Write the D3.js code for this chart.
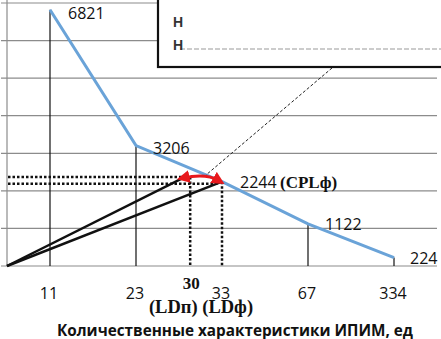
<!DOCTYPE html>
<html>
<head>
<meta charset="utf-8">
<script src="https://cdn.jsdelivr.net/npm/d3@7.9.0/dist/d3.min.js"></script>
<style>
  body { margin: 0; background: #fff; }
  svg { display: block; }
  .num { font-family: "Open Sans", sans-serif; font-size: 16px; fill: #111; }
  .ser { font-family: "Liberation Serif", serif; font-weight: bold; fill: #111; }
</style>
</head>
<body>
<svg width="441" height="339"></svg>
<script>
// categories on the x axis and the curve values
const categories = ["11", "23", "33", "67", "334"];
const values = [6821, 3206, 2244, 1122, 224];
const yTicks = [0, 1000, 2000, 3000, 4000, 5000, 6000, 7000];

// planned point LDп (30) sits between 23 and 33
const ldp = { label: "30", frac: 0.63, value: 2370 };
const ldf = { cat: "33", value: 2244 };

const svg = d3.select("svg");
const W = 441;

let x = d3.scalePoint().domain(categories).range([7, 437]).padding(0.5);
let y = d3.scaleLinear().domain([0, 7000]).range([266, 3]);

const xLdp = x("23") + ldp.frac * (x("33") - x("23"));

// gridlines
svg.append("g")
  .selectAll("line")
  .data(yTicks)
  .join("line")
  .attr("x1", 1).attr("x2", 437)
  .attr("y1", d => y(d)).attr("y2", d => y(d))
  .attr("stroke", "#8c8c8c").attr("stroke-width", 1.2);

// y axis line
svg.append("line")
  .attr("x1", 7).attr("x2", 7).attr("y1", 0).attr("y2", y(0))
  .attr("stroke", "#8c8c8c").attr("stroke-width", 1.2);

// drop lines from each point except 33
svg.append("g")
  .selectAll("line")
  .data(categories.map((c, i) => ({ c, v: values[i] })).filter(d => d.c !== "33"))
  .join("line")
  .attr("x1", d => x(d.c)).attr("x2", d => x(d.c))
  .attr("y1", d => y(d.v)).attr("y2", y(0))
  .attr("stroke", "#111").attr("stroke-width", 1.2);

// dotted helper lines
const dotted = svg.append("g").attr("stroke", "#111").attr("stroke-width", 2.5)
  .attr("stroke-dasharray", "2.5,2");
dotted.append("line").attr("x1", 8).attr("x2", xLdp - 4).attr("y1", y(ldp.value)).attr("y2", y(ldp.value));
dotted.append("line").attr("x1", 8).attr("x2", x(ldf.cat) - 3).attr("y1", y(ldf.value) + 2).attr("y2", y(ldf.value) + 2);
dotted.append("line").attr("x1", xLdp).attr("x2", xLdp).attr("y1", y(ldp.value)).attr("y2", y(0));
dotted.append("line").attr("x1", x(ldf.cat)).attr("x2", x(ldf.cat)).attr("y1", y(ldf.value)).attr("y2", y(0));

// rays from origin
svg.append("line").attr("x1", 7).attr("y1", y(0)).attr("x2", xLdp - 5).attr("y2", y(ldp.value))
  .attr("stroke", "#111").attr("stroke-width", 2.5);
svg.append("line").attr("x1", 7).attr("y1", y(0)).attr("x2", x(ldf.cat)).attr("y2", y(ldf.value))
  .attr("stroke", "#111").attr("stroke-width", 2.5);

// blue curve
let line = d3.line().x((d, i) => x(categories[i])).y(d => y(d));
svg.append("path")
  .attr("d", line(values))
  .attr("fill", "none")
  .attr("stroke", "#6aa3d8")
  .attr("stroke-width", 3);

// red double arrow
const defs = svg.append("defs");
defs.append("marker").attr("id", "ah").attr("viewBox", "0 0 10 10")
  .attr("refX", 5).attr("refY", 5).attr("markerWidth", 4).attr("markerHeight", 4)
  .attr("orient", "auto-start-reverse")
  .append("path").attr("d", "M0,0L10,5L0,10z").attr("fill", "#e8191d");
svg.append("path")
  .attr("d", `M${xLdp - 7},${y(ldp.value) + 1} Q${(xLdp + x("33")) / 2},${y(ldp.value) - 4} ${x("33") - 3},${y(ldf.value) - 1}`)
  .attr("fill", "none").attr("stroke", "#e8191d").attr("stroke-width", 3.2)
  .attr("marker-start", "url(#ah)").attr("marker-end", "url(#ah)");

// legend box (cut off)
svg.append("rect").attr("x", 158).attr("y", -4).attr("width", 300).attr("height", 71)
  .attr("fill", "#fff").attr("stroke", "#111").attr("stroke-width", 2.2);
svg.append("line").attr("x1", 180).attr("x2", W).attr("y1", 49).attr("y2", 49)
  .attr("stroke", "#999").attr("stroke-dasharray", "5,2");
svg.selectAll(".lg").data([21, 44]).join("text")
  .attr("x", 173).attr("y", d => d + 6).attr("font-family", "Liberation Sans Narrow, Liberation Sans")
  .attr("font-weight", "bold").attr("font-size", 14).attr("fill", "#333").text("Н");

// leader line from legend to the arrow
svg.append("line").attr("x1", 332).attr("y1", 68).attr("x2", 206).attr("y2", 175)
  .attr("stroke", "#222").attr("stroke-width", 1).attr("stroke-dasharray", "3,2");

// point value labels
const offs = [[18, 9], [17, 8], [18, 6], [17, 6], [16, 6]];
svg.append("g").selectAll("text").data(values).join("text")
  .attr("class", "num")
  .attr("x", (d, i) => x(categories[i]) + offs[i][0])
  .attr("y", (d, i) => y(d) + offs[i][1])
  .text(d => d);
svg.append("text").attr("class", "ser").style("font-size", "17px")
  .attr("x", 280).attr("y", y(ldf.value) + 6).text("(CPLф)");

// x tick labels
svg.append("g").selectAll("text").data(categories).join("text")
  .attr("class", "num").attr("text-anchor", "middle")
  .attr("x", d => x(d) - 1).attr("y", 299).text(d => d);
svg.append("text").attr("class", "ser").attr("text-anchor", "middle")
  .style("font-size", "17px")
  .attr("x", xLdp + 1).attr("y", 289).text(ldp.label);
svg.append("text").attr("class", "ser").attr("text-anchor", "middle")
  .style("font-size", "18.5px")
  .attr("x", 201).attr("y", 313).text("(LDп) (LDф)");

// axis title
svg.append("text").attr("x", 235).attr("y", 336).attr("text-anchor", "middle")
  .attr("font-family", "Open Sans").attr("font-weight", "bold").attr("font-size", 15.3)
  .attr("fill", "#111").text("Количественные характеристики ИПИМ, ед");
</script>
</body>
</html>
